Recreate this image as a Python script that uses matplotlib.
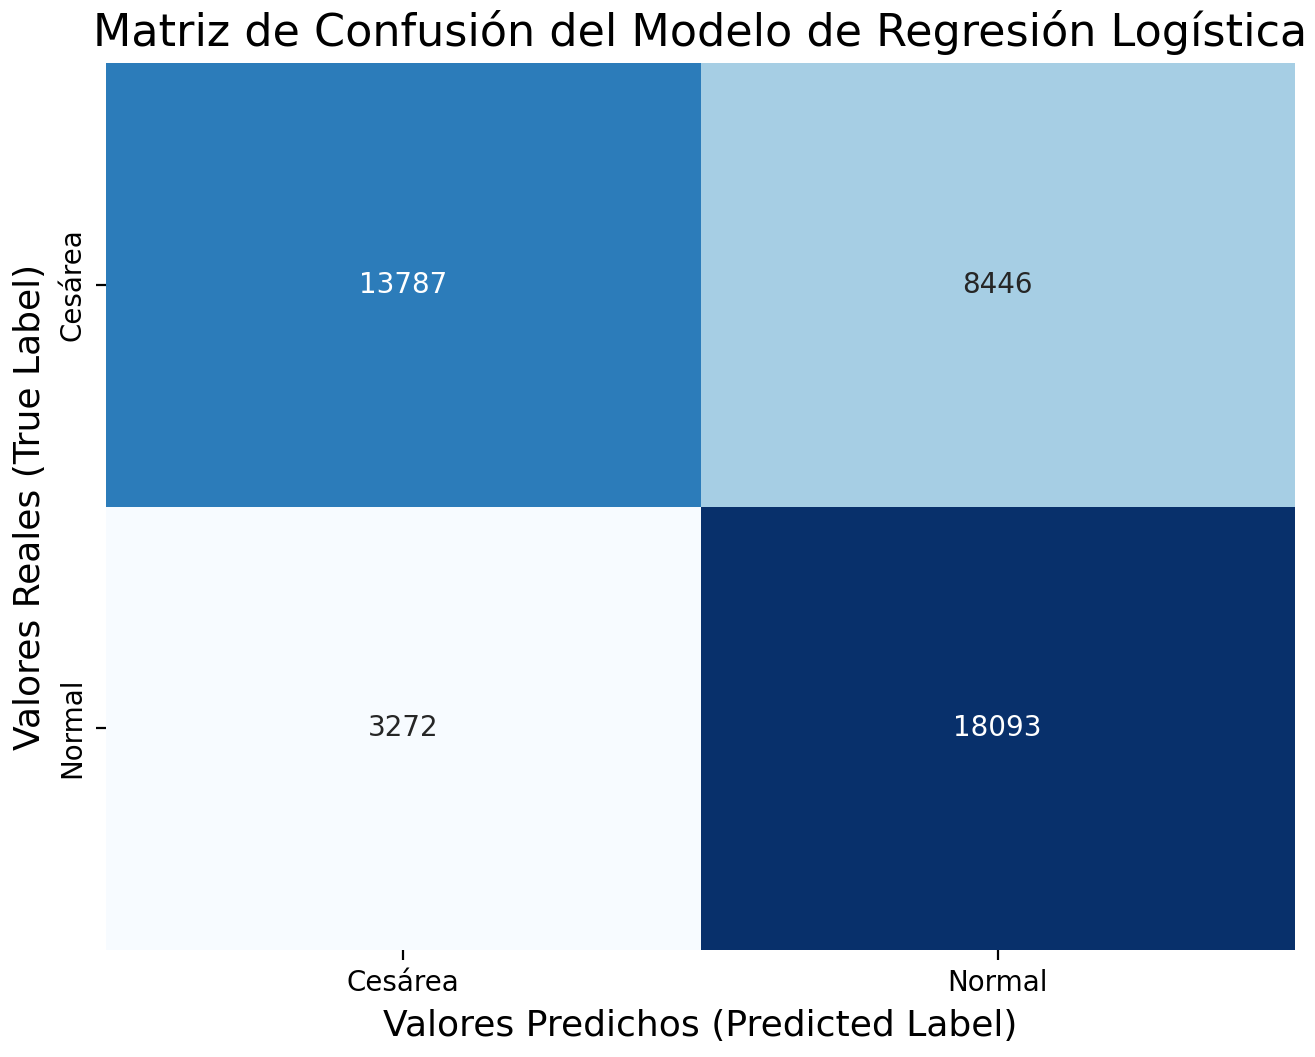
import matplotlib
matplotlib.use("Agg")
import matplotlib.pyplot as plt
import seaborn as sns
import numpy as np

labels = ["Cesárea", "Normal"]
cm = np.array([[13787, 8446],
               [3272, 18093]])

fig = plt.figure(figsize=(6.575, 5.285), dpi=200)
ax = fig.add_axes([106 / 1315, 1 - 950 / 1057, 1189 / 1315, 887 / 1057])
sns.heatmap(cm, annot=True, fmt="d", cmap="Blues", cbar=False,
            xticklabels=labels, yticklabels=labels, ax=ax)
ax.set_title("Matriz de Confusión del Modelo de Regresión Logística", fontsize=16)
ax.set_xlabel("Valores Predichos (Predicted Label)", fontsize=13)
ax.set_ylabel("Valores Reales (True Label)", fontsize=13)
fig.savefig("out.png", dpi=200)
